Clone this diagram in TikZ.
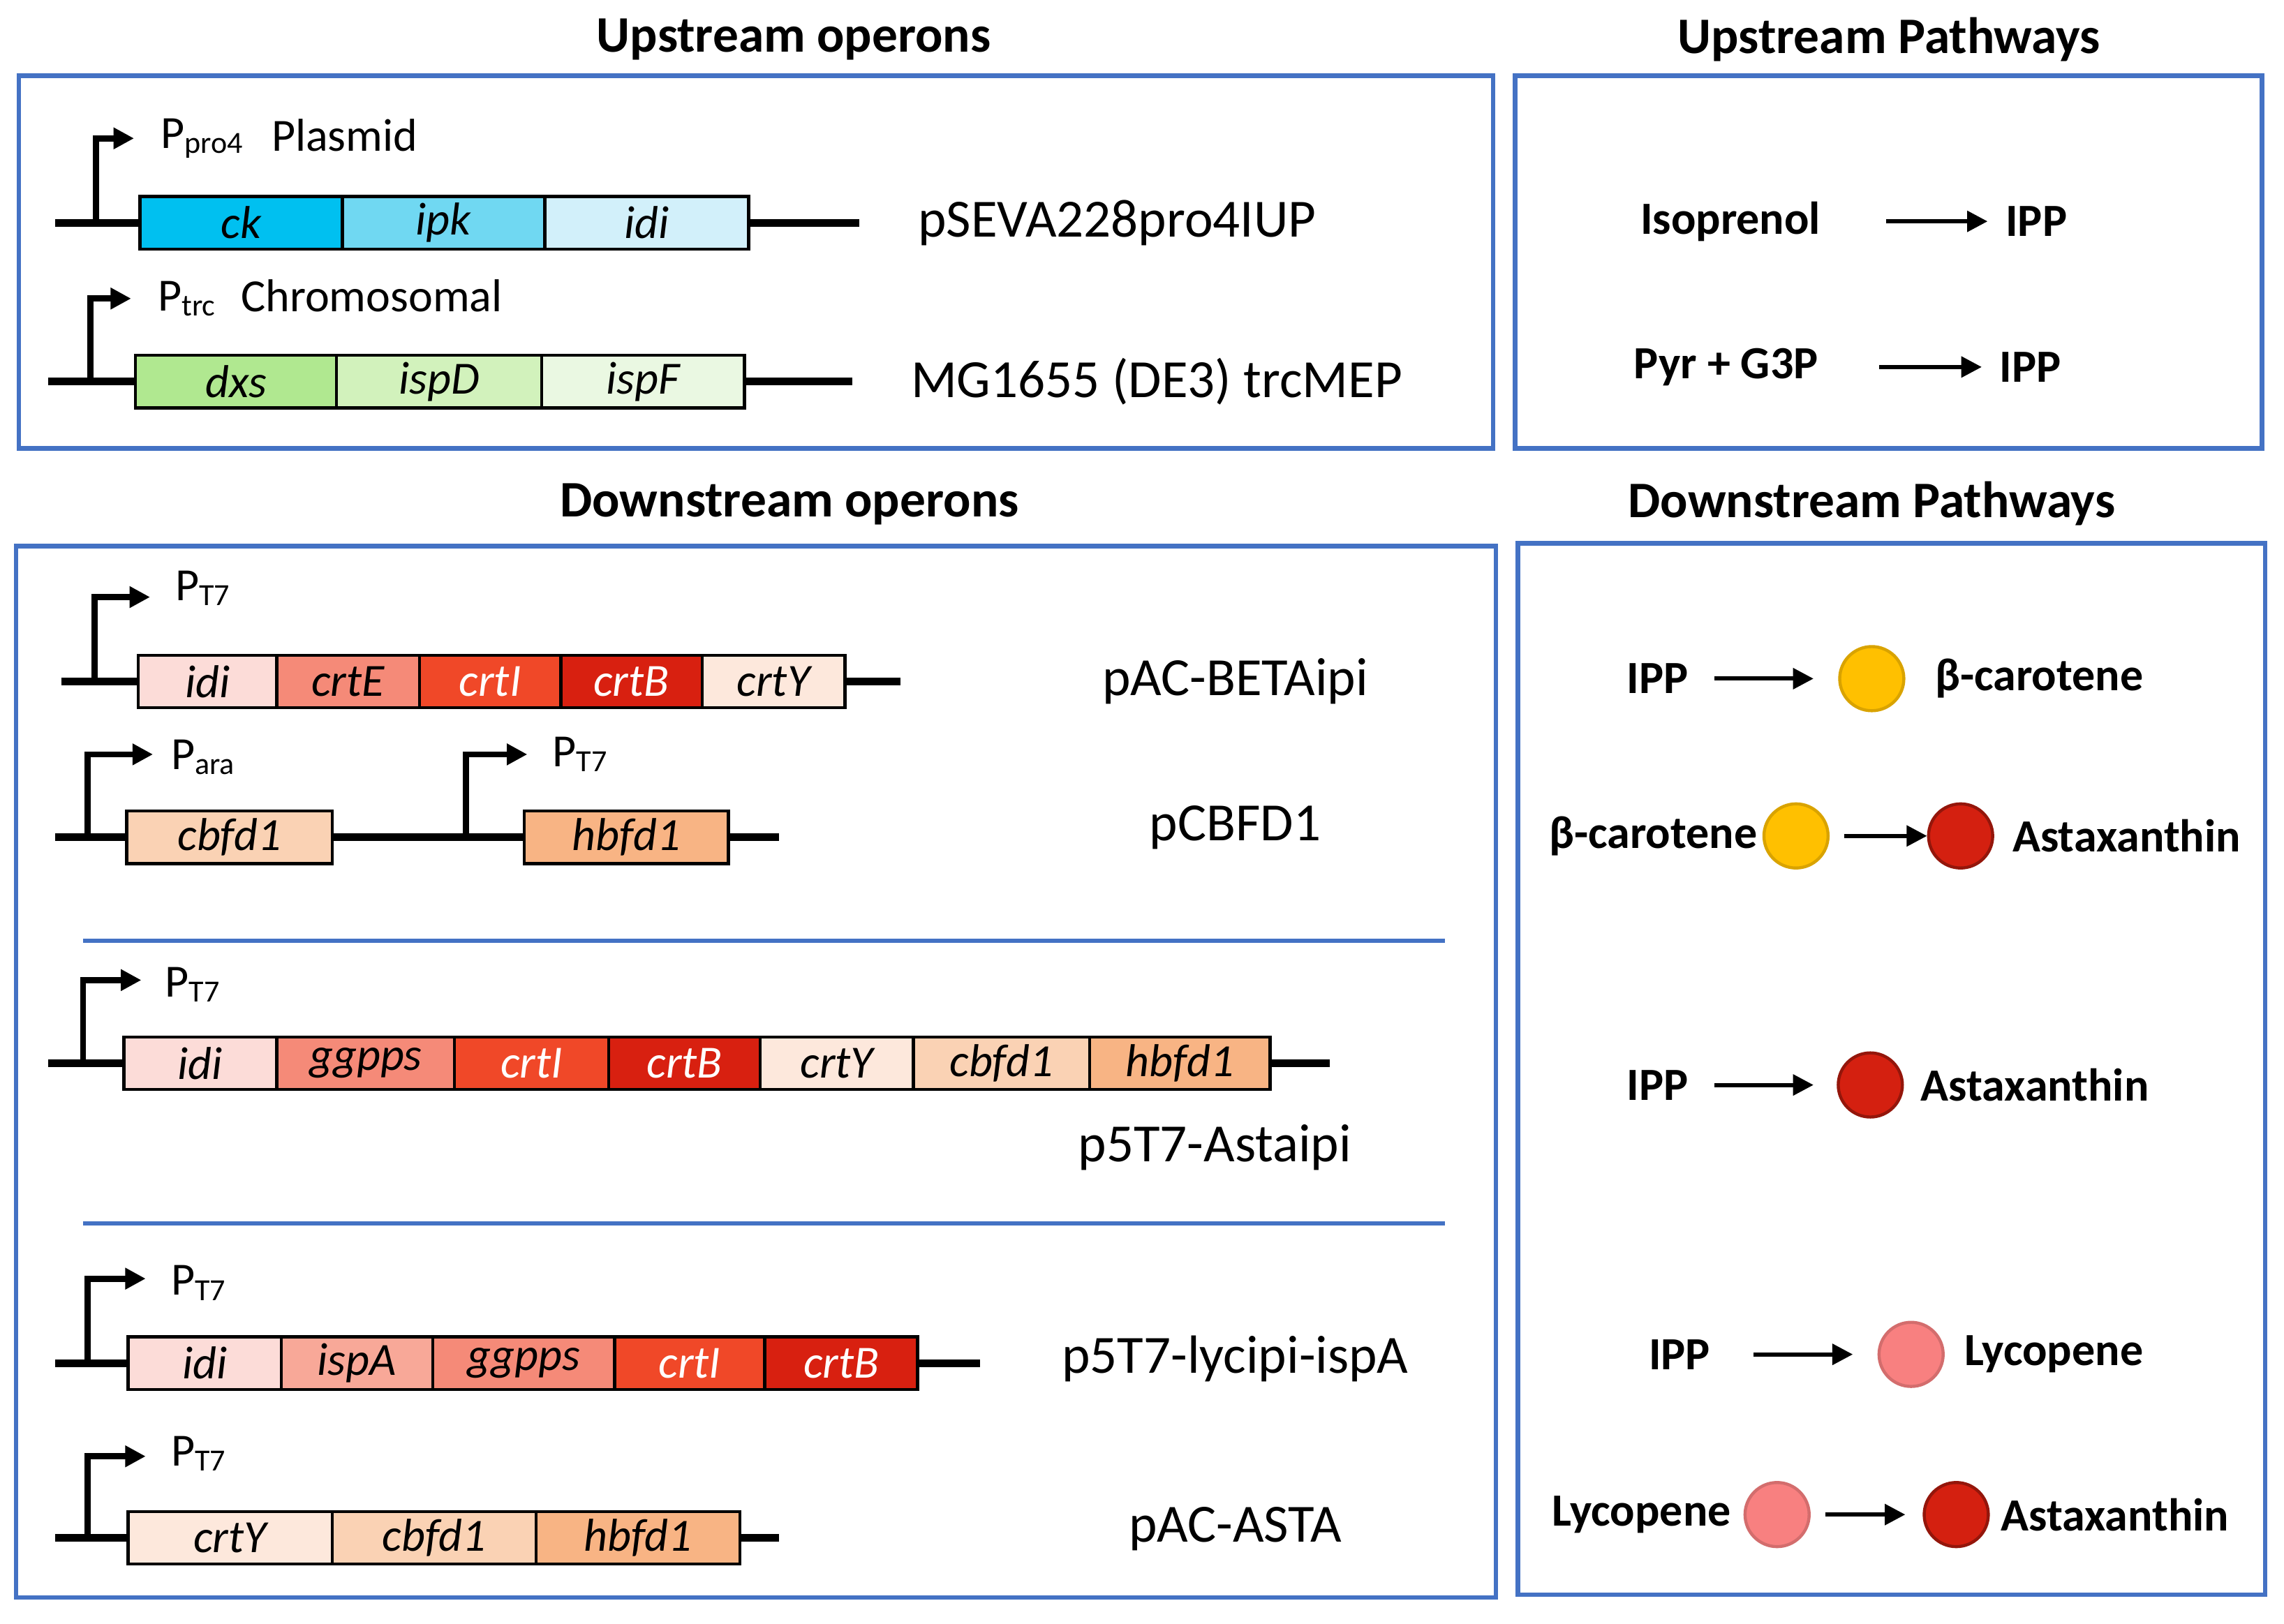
\documentclass[tikz,border=0pt]{standalone}
\usepackage{fontspec}
\setmainfont{Carlito}
\usetikzlibrary{arrows.meta}
\definecolor{frame}{HTML}{4472C4}
\definecolor{cA}{HTML}{00C0F0}\definecolor{cB}{HTML}{70D8F2}\definecolor{cC}{HTML}{D2F0FA}
\definecolor{gA}{HTML}{B0E890}\definecolor{gB}{HTML}{D2F2BC}\definecolor{gC}{HTML}{EAF8E2}
\definecolor{rA}{HTML}{FCDCD8}\definecolor{rB}{HTML}{F58A78}\definecolor{rC}{HTML}{F04828}
\definecolor{rD}{HTML}{D82010}\definecolor{rE}{HTML}{FDE8DC}\definecolor{rF}{HTML}{F8A898}
\definecolor{oA}{HTML}{FAD2B4}\definecolor{oB}{HTML}{F8B484}
\definecolor{yel}{HTML}{FFC000}\definecolor{red}{HTML}{D42010}\definecolor{pink}{HTML}{F88080}
\tikzset{
  box/.style={draw=frame, line width=0.9pt},
  title/.style={font=\fontsize{10}{12}\selectfont\bfseries},
  plasmid/.style={font=\fontsize{10.5}{12}\selectfont, anchor=west},
  gene/.style={draw, line width=0.6pt, minimum height=0.36cm, inner sep=0pt, font=\fontsize{9}{10}\selectfont\itshape},
  dna/.style={line width=1.5pt},
  prom/.style={line width=1.2pt, -{Triangle[length=4pt,width=4pt]}},
  plab/.style={anchor=west, font=\fontsize{9}{10}\selectfont},
  met/.style={font=\fontsize{9}{10}\selectfont\bfseries},
  conv/.style={line width=0.8pt, -{Triangle[length=4pt,width=4pt]}},
  ball/.style={circle, minimum size=0.44cm, inner sep=0pt, line width=0.6pt}
}
\begin{document}
\begin{tikzpicture}[x=0.01cm, y=-0.01cm]
\useasboundingbox (0,0) rectangle (1568,1115);
% frames
\draw[box] (13,52) rectangle (1025,308);
\draw[box] (1040,52) rectangle (1553,308);
\draw[box] (11,375) rectangle (1027,1097);
\draw[box] (1042,373) rectangle (1555,1095);
\node[title] (t1) at (545,27) {Upstream operons};
\node[title] (t2) at (1297,27) {Upstream Pathways};
\node[title] (t3) at (542,346) {Downstream operons};
\node[title] (t4) at (1285,346) {Downstream Pathways};
\draw[frame, line width=0.8pt] (57,646) -- (992,646);
\draw[frame, line width=0.8pt] (57,840) -- (992,840);

% upstream operons
\coordinate (a0) at (38,153); \coordinate (a1) at (590,153);
\coordinate (ap) at (66,153); \coordinate (aq) at (66,95); \coordinate (ar) at (92,95);
\draw[dna] (a0) -- (a1);
\draw[prom] (ap) -- (aq) -- (ar);
\node[plab] (pa) at (98,95) {P\textsubscript{pro4}};
\node[plab] (ka) at (174,93) {Plasmid};
\foreach \a/\b/\g/\c in {96/235/ck/cA, 235/374/ipk/cB, 374/514/idi/cC}
  \node[gene, fill=\c, minimum width={(\b-\a)*0.01cm}] (a-\g) at ({(\a+\b)/2},153) {\g};
\node[plasmid] (na) at (618,153) {pSEVA228pro4IUP};

\coordinate (b0) at (33,262); \coordinate (b1) at (585,262);
\coordinate (bp) at (62,262); \coordinate (bq) at (62,205); \coordinate (br) at (90,205);
\draw[dna] (b0) -- (b1);
\draw[prom] (bp) -- (bq) -- (br);
\node[plab] (pb) at (96,205) {P\textsubscript{trc}};
\node[plab] (kb) at (153,203) {Chromosomal};
\foreach \a/\b/\g/\c in {93/231/dxs/gA, 231/372/ispD/gB, 372/511/ispF/gC}
  \node[gene, fill=\c, minimum width={(\b-\a)*0.01cm}] (b-\g) at ({(\a+\b)/2},262) {\g};
\node[plasmid] (nb) at (613,262) {MG1655 (DE3) trcMEP};

% upstream pathways
\node[met] (u1) at (1188,152) {Isoprenol};
\node[met] (u2) at (1398,152) {IPP};
\draw[conv] (1295,152) -- (u2.west);
\node[met] (u3) at (1185,252) {Pyr + G3P};
\node[met] (u4) at (1394,252) {IPP};
\draw[conv] (1290,252) -- (u4.west);

% downstream operons
\coordinate (c0) at (42,468); \coordinate (c1) at (618,468);
\coordinate (cp) at (65,468); \coordinate (cq) at (65,410); \coordinate (cr) at (103,410);
\draw[dna] (c0) -- (c1);
\draw[prom] (cp) -- (cq) -- (cr);
\node[plab] (pc) at (108,404) {P\textsubscript{T7}};
\foreach \a/\b/\g/\c/\t in {95/190/idi/rA/black, 190/288/crtE/rB/black, 288/385/crtI/rC/white, 385/482/crtB/rD/white, 482/580/crtY/rE/black}
  \node[gene, fill=\c, text=\t, minimum width={(\b-\a)*0.01cm}] (c-\g) at ({(\a+\b)/2},468) {\g};
\node[plasmid, anchor=center] (nc) at (848,468) {pAC-BETAipi};

\coordinate (d0) at (38,575); \coordinate (d1) at (535,575);
\coordinate (dp) at (60,575); \coordinate (dq) at (60,518); \coordinate (dr) at (105,518);
\coordinate (ds) at (320,575); \coordinate (dt) at (320,518); \coordinate (du) at (362,518);
\draw[dna] (d0) -- (d1);
\draw[prom] (dp) -- (dq) -- (dr);
\draw[prom] (ds) -- (dt) -- (du);
\node[plab] (pd) at (105,520) {P\textsubscript{ara}};
\node[plab] (pe) at (367,518) {P\textsubscript{T7}};
\foreach \a/\b/\g/\c in {87/228/cbfd1/oA, 360/500/hbfd1/oB}
  \node[gene, fill=\c, minimum width={(\b-\a)*0.01cm}] (d-\g) at ({(\a+\b)/2},575) {\g};
\node[plasmid, anchor=center] (nd) at (848,568) {pCBFD1};

\coordinate (e0) at (33,730); \coordinate (e1) at (913,730);
\coordinate (ep) at (57,730); \coordinate (eq) at (57,673); \coordinate (er) at (97,673);
\draw[dna] (e0) -- (e1);
\draw[prom] (ep) -- (eq) -- (er);
\node[plab] (pf) at (101,676) {P\textsubscript{T7}};
\foreach \a/\b/\g/\c/\t in {85/190/idi/rA/black, 190/312/ggpps/rB/black, 312/418/crtI/rC/white, 418/522/crtB/rD/white, 522/627/crtY/rE/black, 627/748/cbfd1/oA/black, 748/872/hbfd1/oB/black}
  \node[gene, fill=\c, text=\t, minimum width={(\b-\a)*0.01cm}] (e-\g) at ({(\a+\b)/2},730) {\g};
\node[plasmid, anchor=center] (ne) at (834,788) {p5T7-Astaipi};

\coordinate (f0) at (38,936); \coordinate (f1) at (673,936);
\coordinate (fp) at (60,936); \coordinate (fq) at (60,878); \coordinate (fr) at (100,878);
\draw[dna] (f0) -- (f1);
\draw[prom] (fp) -- (fq) -- (fr);
\node[plab] (pg) at (105,881) {P\textsubscript{T7}};
\foreach \a/\b/\g/\c/\t in {88/193/idi/rA/black, 193/297/ispA/rF/black, 297/422/ggpps/rB/black, 422/525/crtI/rC/white, 525/630/crtB/rD/white}
  \node[gene, fill=\c, text=\t, minimum width={(\b-\a)*0.01cm}] (f-\g) at ({(\a+\b)/2},936) {\g};
\node[plasmid, anchor=center] (nf) at (848,933) {p5T7-lycipi-ispA};

\coordinate (h0) at (38,1056); \coordinate (h1) at (535,1056);
\coordinate (hp) at (60,1056); \coordinate (hq) at (60,1000); \coordinate (hr) at (100,1000);
\draw[dna] (h0) -- (h1);
\draw[prom] (hp) -- (hq) -- (hr);
\node[plab] (ph) at (105,998) {P\textsubscript{T7}};
\foreach \a/\b/\g/\c in {88/228/crtY/rE, 228/368/cbfd1/oA, 368/508/hbfd1/oB}
  \node[gene, fill=\c, minimum width={(\b-\a)*0.01cm}] (h-\g) at ({(\a+\b)/2},1056) {\g};
\node[plasmid, anchor=center] (nh) at (848,1050) {pAC-ASTA};

% downstream pathways
\node[met] (m1) at (1138,466) {IPP};
\node[ball, fill=yel, draw=yel!85!black] (o1) at (1285,466) {};
\node[met] (m2) at (1400,466) {β-carotene};
\draw[conv] (1177,466) -- (1245,466);

\node[met] (m3) at (1135,574) {β-carotene};
\node[ball, fill=yel, draw=yel!85!black] (o2) at (1233,574) {};
\node[ball, fill=red, draw=red!70!black] (o3) at (1346,574) {};
\node[met] (m4) at (1460,574) {Astaxanthin};
\draw[conv] (1266,574) -- (o3.west);

\node[met] (m5) at (1138,745) {IPP};
\node[ball, fill=red, draw=red!70!black] (o4) at (1284,745) {};
\node[met] (m6) at (1397,745) {Astaxanthin};
\draw[conv] (1177,745) -- (1245,745);

\node[met] (m7) at (1153,930) {IPP};
\node[ball, fill=pink, draw=pink!85!black] (o5) at (1312,930) {};
\node[met] (m8) at (1410,930) {Lycopene};
\draw[conv] (1204,930) -- (1272,930);

\node[met] (m9) at (1127,1040) {Lycopene};
\node[ball, fill=pink, draw=pink!85!black] (o6) at (1220,1040) {};
\node[ball, fill=red, draw=red!70!black] (o7) at (1343,1040) {};
\node[met] (m10) at (1452,1040) {Astaxanthin};
\draw[conv] (1253,1040) -- (1308,1040);
\end{tikzpicture}
\end{document}
